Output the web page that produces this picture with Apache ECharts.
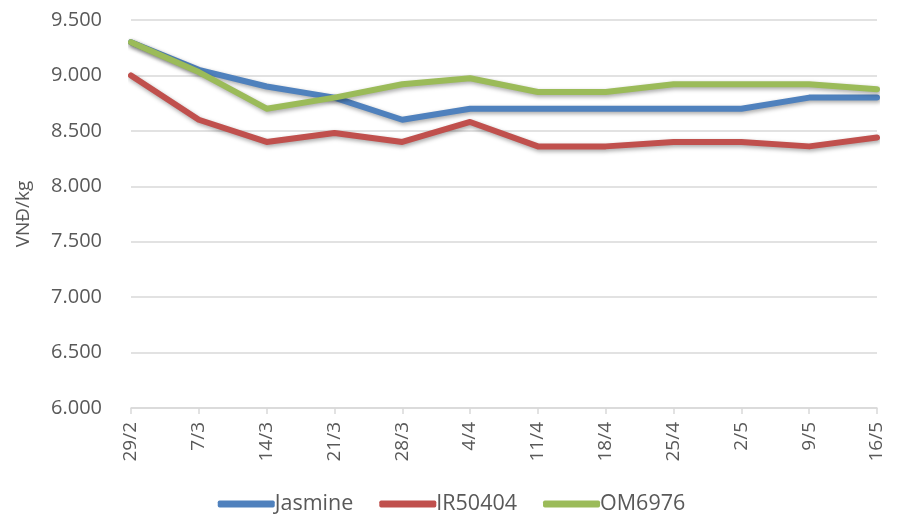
<!DOCTYPE html>
<html><head><meta charset="utf-8">
<script src="https://cdn.jsdelivr.net/npm/echarts@6/dist/echarts.min.js"></script>
<style>html,body{margin:0;padding:0;background:#fff}#c{width:903px;height:522px}</style>
</head><body><div id="c"></div>
<script>
const categories = ['29/2','7/3','14/3','21/3','28/3','4/4','11/4','18/4','25/4','2/5','9/5','16/5'];
const jasmine = [9300,9050,8900,8800,8600,8700,8700,8700,8700,8700,8800,8800];
const ir50404 = [9000,8600,8400,8480,8400,8580,8360,8360,8400,8400,8360,8440];
const om6976  = [9300,9030,8700,8800,8920,8975,8850,8850,8920,8920,8920,8875];
const yTicks = [6000,6500,7000,7500,8000,8500,9000,9500];

const font = 'Open Sans';
const txt = '#595959';
function fmt(v){ return String(v).replace(/\B(?=(\d{3})+(?!\d))/g,'.'); }
function mk(name, data, color){
  return {name, type:'line', data, symbol:'none', smooth:false,
    lineStyle:{width:6, color, cap:'round', join:'round', shadowColor:'rgba(0,0,0,0.35)', shadowBlur:4, shadowOffsetX:1, shadowOffsetY:2},
    itemStyle:{color}};
}
const chart = echarts.init(document.getElementById('c'));
chart.setOption({
  animation:false,
  grid:{left:131, right:26, top:20, bottom:114},
  legend:{bottom:2, left:'center', itemWidth:57, itemHeight:7, itemGap:26, icon:'roundRect',
    textStyle:{color:txt, fontFamily:font, fontSize:21.5, padding:[0,0,0,-5]},
    data:['Jasmine','IR50404','OM6976']},
  xAxis:{type:'category', data:categories, boundaryGap:false,
    axisLine:{lineStyle:{color:'#D9D9D9', width:1.5}},
    axisTick:{show:true, length:6, lineStyle:{color:'#D9D9D9', width:1.5}},
    axisLabel:{rotate:90, color:txt, fontFamily:font, fontSize:19, margin:14}},
  yAxis:{type:'value', min:yTicks[0], max:yTicks[yTicks.length-1], interval:500,
    name:'VNĐ/kg', nameLocation:'middle', nameGap:98, nameRotate:90,
    nameTextStyle:{color:txt, fontFamily:font, fontSize:19},
    axisLine:{show:false}, axisTick:{show:false},
    splitLine:{lineStyle:{color:'#D9D9D9', width:1.5}},
    axisLabel:{color:txt, fontFamily:font, fontSize:20, margin:29, formatter:fmt}},
  series:[mk('Jasmine',jasmine,'#4F81BD'), mk('IR50404',ir50404,'#C0504D'), mk('OM6976',om6976,'#9BBB59')]
});
</script></body></html>
